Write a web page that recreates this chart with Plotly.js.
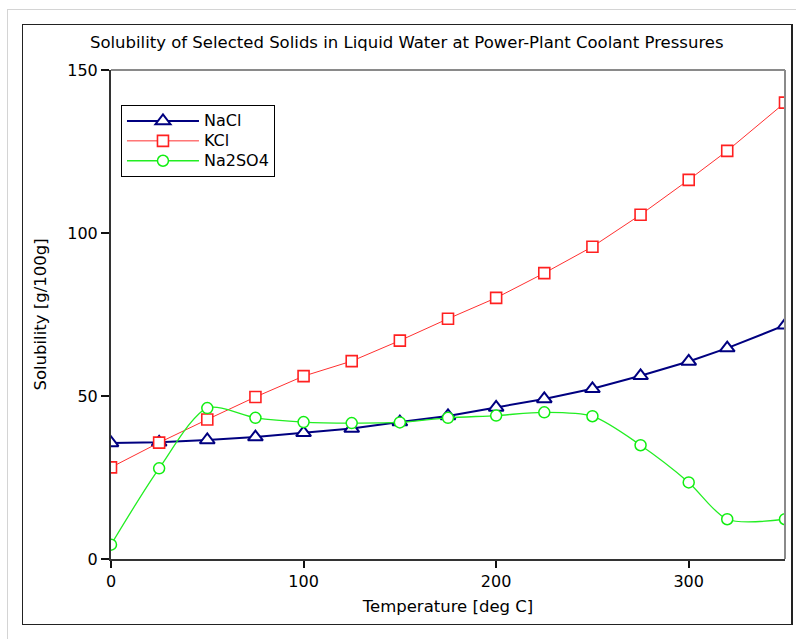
<!DOCTYPE html>
<html>
<head>
<meta charset="utf-8">
<script src="https://cdn.plot.ly/plotly-3.0.1.min.js"></script>
<style>
  html, body { margin: 0; padding: 0; background: #ffffff; width: 796px; height: 639px; overflow: hidden; }
  #frame { position: absolute; left: 7px; top: 9px; width: 900px; height: 900px; border-left: 1px solid #d4d4d4; border-top: 1px solid #d4d4d4; }
  #box { position: absolute; left: 22px; top: 24px; width: 768px; height: 599px; border: 1px solid #222; border-right-width: 2px; }
  #plot { position: absolute; left: 0; top: 0; width: 796px; height: 639px; }
</style>
</head>
<body>
<div id="frame"></div>
<div id="box"></div>
<div id="plot"></div>
<script>
const temperature = [0, 25, 50, 75, 100, 125, 150, 175, 200, 225, 250, 275, 300, 320, 350];
const nacl   = [35.6, 35.8, 36.5, 37.4, 38.7, 40.0, 42.0, 43.9, 46.5, 49.1, 52.2, 56.2, 60.6, 64.7, 71.7];
const kcl    = [28.1, 35.7, 42.8, 49.7, 56.1, 60.7, 67.0, 73.7, 80.1, 87.7, 95.8, 105.6, 116.3, 125.2, 140.0];
const na2so4 = [4.4, 27.8, 46.3, 43.3, 42.0, 41.7, 41.9, 43.3, 44.0, 45.0, 43.8, 34.9, 23.5, 12.2, 12.2];
const seriesNames = ['NaCl', 'KCl', 'Na2SO4'];
const xTicks = [0, 100, 200, 300];
const yTicks = [0, 50, 100, 150];

const font = 'DejaVu Sans, sans-serif';
const legendLabel = s => '<span style="font-size:16px">' + s + '</span>';

const traces = [
  { name: legendLabel(seriesNames[0]), x: temperature, y: nacl, mode: 'lines+markers',
    line: { color: '#000080', width: 2 },
    marker: { symbol: 'triangle-up', size: 13, color: '#ffffff', line: { color: '#000080', width: 2 } } },
  { name: legendLabel(seriesNames[1]), x: temperature, y: kcl, mode: 'lines+markers',
    line: { color: '#ff3030', width: 1 },
    marker: { symbol: 'square', size: 11, color: '#ffffff', line: { color: '#ff2020', width: 1.6 } } },
  { name: legendLabel(seriesNames[2]), x: temperature, y: na2so4, mode: 'lines+markers',
    line: { color: '#22ee22', width: 1.3, shape: 'spline', smoothing: 0.8 },
    marker: { symbol: 'circle', size: 11, color: '#ffffff', line: { color: '#11ee11', width: 1.5 } } }
];

const layout = {
  width: 796, height: 639,
  margin: { l: 111, r: 11, t: 70, b: 80 },
  paper_bgcolor: 'rgba(0,0,0,0)',
  plot_bgcolor: '#ffffff',
  font: { family: font, color: '#000000', size: 15 },
  title: { text: 'Solubility of Selected Solids in Liquid Water at Power-Plant Coolant Pressures',
           font: { family: font, size: 16.5, color: '#000' },
           xref: 'container', yref: 'container', x: 0.511, y: 1 - 42/639, xanchor: 'center', yanchor: 'middle' },
  xaxis: {
    range: [0, 350], tickvals: xTicks, ticktext: xTicks.map(String),
    showgrid: false, zeroline: false, showline: true, linecolor: '#333', linewidth: 2,
    ticks: 'outside', ticklen: 7, tickwidth: 2, tickcolor: '#111',
    tickfont: { family: font, size: 16 },
    title: { text: 'Temperature [deg C]', font: { family: font, size: 16.5 }, standoff: 10 }
  },
  yaxis: {
    range: [0, 150], tickvals: yTicks, ticktext: yTicks.map(String),
    showgrid: false, zeroline: false, showline: true, linecolor: '#333', linewidth: 2,
    ticks: 'outside', ticklen: 8, tickwidth: 2, tickcolor: '#111',
    tickfont: { family: font, size: 16 },
    title: { text: 'Solubility [g/100g]', font: { family: font, size: 16.5 }, standoff: 16 }
  },
  shapes: [
    { type: 'line', xref: 'paper', yref: 'paper', x0: 0, x1: 1, y0: 1, y1: 1, line: { color: '#8a8a8a', width: 2 } },
    { type: 'line', xref: 'paper', yref: 'paper', x0: 1, x1: 1, y0: 0, y1: 1, line: { color: '#8a8a8a', width: 2 } }
  ],
  showlegend: true,
  legend: {
    x: 0.0148, y: (559 - 105) / 489, xanchor: 'left', yanchor: 'top',
    bgcolor: '#ffffff', bordercolor: '#000000', borderwidth: 1,
    font: { family: font, size: 13 },
    itemwidth: 72, tracegroupgap: 0
  }
};

Plotly.newPlot('plot', traces, layout, { displayModeBar: false, staticPlot: true });
</script>
</body>
</html>
